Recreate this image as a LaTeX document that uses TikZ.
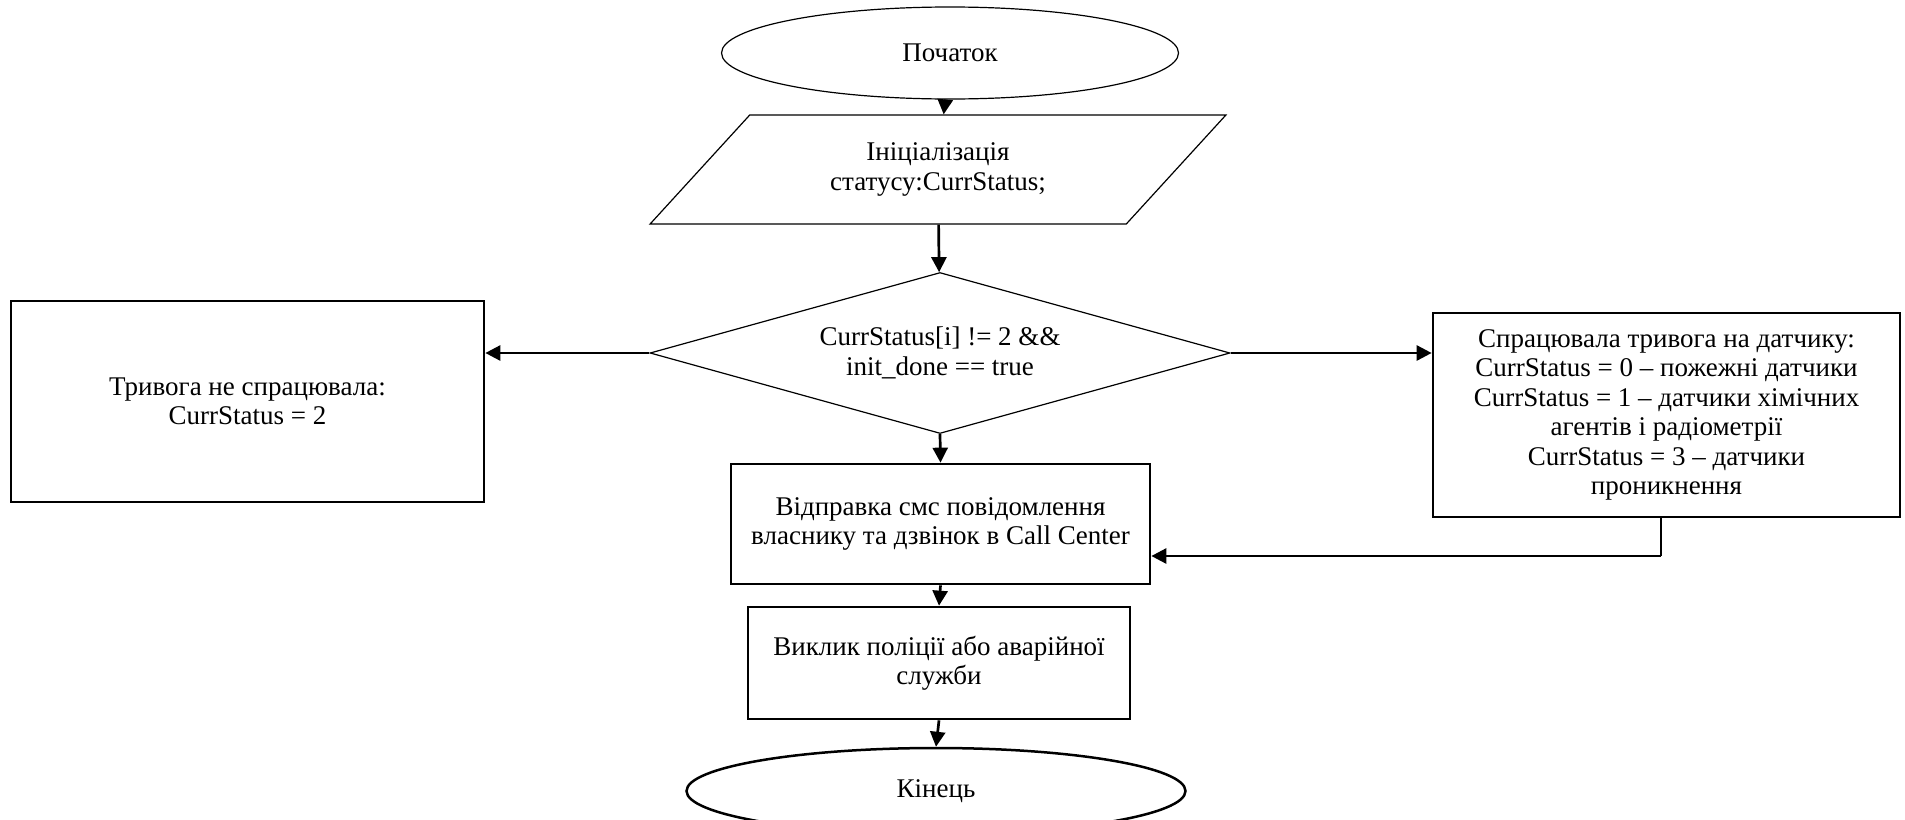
\documentclass[tikz,border=0pt]{standalone}
\usepackage{fontspec}
\setmainfont{Liberation Serif}
\usetikzlibrary{shapes.geometric,arrows.meta}

\begin{document}
\begin{tikzpicture}[x=1pt,y=-1pt,
	font=\fontsize{27}{29.5}\selectfont,
	box/.style={shape=rectangle,draw,line width=2.7pt,inner sep=0pt,align=center},
	outline/.style={draw,line width=1.2pt,inner sep=0pt,align=center},
	arrow/.style={line width=2.7pt,-{Triangle[length=15pt,width=15pt]}}]
	\useasboundingbox (0,0) rectangle (1905,819);

	\node[shape=ellipse,outline,minimum width=457pt,minimum height=92pt] (start) at (950,53) {Початок};
	\node[shape=trapezium,outline,trapezium left angle=43,trapezium right angle=137,trapezium stretches=true,minimum width=578pt,minimum height=109pt] (init) at (938,169.5) {Ініціалізація\\статусу:CurrStatus;};
	\node[shape=diamond,outline,aspect=3.6,minimum width=580pt,minimum height=161pt] (cond) at (940,353) {CurrStatus[i] != 2 \&\&\\init\_done == true};
	\node[box,minimum width=473pt,minimum height=201pt] (nofire) at (247.5,401.5) {Тривога не спрацювала:\\CurrStatus = 2};
	\node[box,minimum width=467pt,minimum height=204pt] (alarm) at (1666.5,415) {Спрацювала тривога на датчику:\\CurrStatus = 0 – пожежні датчики\\CurrStatus = 1 – датчики хімічних\\агентів і радіометрії\\CurrStatus = 3 – датчики\\проникнення};
	\node[box,minimum width=419pt,minimum height=120pt] (sms) at (940.5,524) {Відправка смс повідомлення\\власнику та дзвінок в Call Center};
	\node[box,minimum width=382pt,minimum height=112pt] (police) at (939,663) {Виклик поліції або аварійної\\служби};
	\node[shape=ellipse,draw,line width=2.5pt,inner sep=0pt,minimum width=499pt,minimum height=86pt] (finish) at (936,791) {Кінець};
	\coordinate (turn) at (1661,556);

	\draw (start) [arrow] -- (init);
	\draw (init) [arrow] -- (cond);
	\draw (cond.west) [arrow] -- (cond.west -| nofire.east);
	\draw (cond.east) [arrow] -- (cond.east -| alarm.west);
	\draw (cond.south) [arrow] -- (sms.north);
	\draw (sms.south) [arrow] -- (police.north);
	\draw (police.south) [arrow] -- (finish.north);
	\draw (alarm.south -| turn) [line width=1.5pt] -- (turn);
	\draw (turn) [arrow] -- (turn -| sms.east);
\end{tikzpicture}
\end{document}
